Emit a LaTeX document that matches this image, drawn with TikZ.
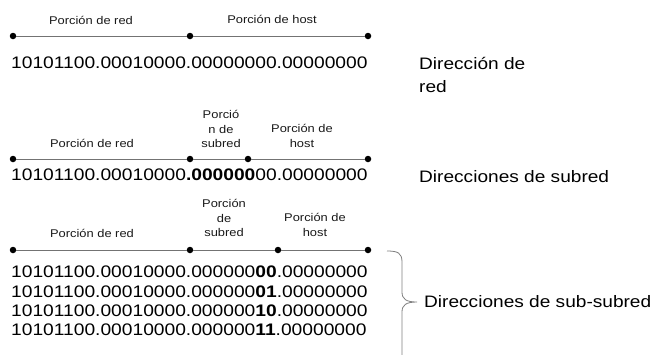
\documentclass[tikz,border=0pt]{standalone}
\usepackage{fontspec}
\setmainfont{Liberation Sans}[FakeStretch=1.15]

\tikzset{
  dot/.style={circle, fill=black, inner sep=0pt, minimum size=6.5pt},
  seg/.style={draw=black!55, line width=0.9pt},
  lbl/.style={font=\fontsize{11.2}{14.5}\selectfont, align=center, text=black!90},
  bits/.style={font=\fontsize{16.7}{19.5}\selectfont, anchor=west, inner sep=0pt, text=black},
  side/.style={font=\fontsize{16.6}{23.5}\selectfont, anchor=west, align=left, inner sep=0pt, text=black},
  llave/.style={draw=black!50, line width=0.8pt}
}

\begin{document}
\begin{tikzpicture}[x=1pt, y=-1pt]
    \useasboundingbox (0,0) rectangle (656,354);

    % Direccion de red
    \node[lbl] (red1) at (91,20) {Porción de red};
    \node[lbl] (host1) at (272,19) {Porción de host};
    \node[dot] (a1) at (13,36) {};
    \node[dot] (b1) at (190,36) {};
    \node[dot] (c1) at (368,36) {};
    \draw[seg] (a1) -- (b1);
    \draw[seg] (b1) -- (c1);
    \node[bits] (ip1) at (11,63) {10101100.00010000.00000000.00000000};
    \node[side] (t1) at (419,75) {Dirección de\\red};

    % Direcciones de subred
    \node[lbl] (red2) at (92,143) {Porción de red};
    \node[lbl] (sub2) at (221,129) {Porció\\n de\\subred};
    \node[lbl] (host2) at (302,136) {Porción de\\host};
    \node[dot] (a2) at (13,159) {};
    \node[dot] (b2) at (190,159) {};
    \node[dot] (c2) at (248,159) {};
    \node[dot] (d2) at (368,159) {};
    \draw[seg] (a2) -- (b2);
    \draw[seg] (b2) -- (c2);
    \draw[seg] (c2) -- (d2);
    \node[bits] (ip2) at (11,175) {10101100.00010000\textbf{.000000}00.00000000};
    \node[side] (t2) at (419,177) {Direcciones de subred};

    % Direcciones de sub-subred
    \node[lbl] (red3) at (92,233) {Porción de red};
    \node[lbl] (sub3) at (224,218) {Porción\\de\\subred};
    \node[lbl] (host3) at (315,225) {Porción de\\host};
    \node[dot] (a3) at (13,250) {};
    \node[dot] (b3) at (190,250) {};
    \node[dot] (c3) at (278,250) {};
    \node[dot] (d3) at (368,250) {};
    \draw[seg] (a3) -- (b3);
    \draw[seg] (b3) -- (c3);
    \draw[seg] (c3) -- (d3);
    \node[bits] (ip3a) at (11,272) {10101100.00010000.000000\textbf{00}.00000000};
    \node[bits] (ip3b) at (11,292) {10101100.00010000.000000\textbf{01}.00000000};
    \node[bits] (ip3c) at (11,311) {10101100.00010000.000000\textbf{10}.00000000};
    \node[bits] (ip3d) at (11,330) {10101100.00010000.000000\textbf{11}.00000000};

    % llave
    \coordinate (brtop) at (387,251);
    \coordinate (brtip) at (417,302);
    \coordinate (brbot) at (402,356);
    \draw[llave] (brtop) .. controls (398,251) and (402,253) .. (402,262) -- (402,292)
        .. controls (402,299) and (406,302) .. (brtip)
        .. controls (406,302) and (402,305) .. (402,312) -- (brbot);
    \node[side] (t3) at (424,302) {Direcciones de sub-subred};
\end{tikzpicture}
\end{document}
